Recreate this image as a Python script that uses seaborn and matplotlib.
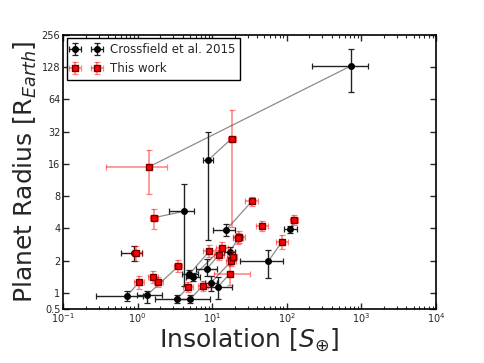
import numpy as np
import pandas as pd
import matplotlib
matplotlib.use("Agg")
import matplotlib.pyplot as plt
import seaborn as sns

# Crossfield et al. 2015 (insolation, radius, lower/upper bounds)
cr_s = [719, 8.87, 4.19, 0.895, 15.3, 111, 56.5, 17.1, 8.44, 4.93, 5.48, 9.55, 11.8, 0.714, 1.32, 3.34, 5.09]
cr_s_lo = [216, 7.6, 2.64, 0.599, 10.2, 91.7, 23.6, 14.2, 6.07, 3.90, 4.45, 7.93, 7.53, 0.277, 0.973, 1.71, 3.27]
cr_s_hi = [1214, 10.3, 5.70, 1.135, 20.2, 137, 89.8, 20.5, 11.5, 6.45, 6.86, 11.5, 18.4, 1.18, 2.10, 5.04, 9.34]
cr_r = [131, 17.4, 5.77, 2.37, 3.86, 3.92, 1.97, 2.39, 1.67, 1.49, 1.41, 1.24, 1.13, 0.932, 0.944, 0.870, 0.879]
cr_r_lo = [75.2, 3.12, 1.16, 1.96, 3.40, 3.62, 1.38, 2.15, 1.44, 1.37, 1.29, 1.04, 0.88, 0.837, 0.807, 0.798, 0.807]
cr_r_hi = [188, 31.7, 10.4, 2.74, 4.40, 4.21, 2.52, 2.67, 2.07, 1.62, 1.54, 1.45, 1.41, 1.04, 1.05, 0.948, 0.958]

# This work (first 17 entries are the same planets as above)
tw_s = [1.42, 18.2, 1.67, 0.952, 33.8, 126, 86.3, 22.9, 12.2, 9.15, 13.4, 17.9, 17.3, 1.05, 3.51, 4.78, 7.41,
        22.0, 18.7, 1.62, 1.89, 46.1]
tw_s_lo = [0.373, 16.1, 1.48, 0.833, 27.5, 111, 71.6, 19.0, 10.5, 7.6, 11.1, 15.3, 10.6, 0.895, 3.10, 4.10, 6.35,
           19.0, 16.0, 1.39, 1.66, 38.3]
tw_s_hi = [2.48, 20.7, 1.89, 1.135, 41.1, 143, 104, 27.5, 14.3, 11.0, 16.1, 20.8, 32.1, 1.22, 3.97, 5.58, 8.65,
           25.5, 21.8, 1.89, 2.21, 55.5]
tw_r = [15.0, 27.5, 5.03, 2.37, 7.12, 4.76, 3.01, 3.33, 2.25, 2.45, 2.60, 1.96, 1.51, 1.26, 1.77, 1.13, 1.15,
        3.22, 2.18, 1.40, 1.26, 4.18]
tw_r_lo = [8.4, 4.1, 3.95, 1.96, 6.47, 4.30, 2.57, 2.92, 2.02, 2.14, 2.26, 1.76, 1.17, 1.09, 1.57, 1.02, 1.04,
           2.85, 1.96, 1.24, 1.13, 3.76]
tw_r_hi = [21.7, 50.8, 6.06, 2.74, 7.85, 5.33, 3.47, 3.78, 2.50, 2.80, 2.99, 2.18, 1.80, 1.45, 2.03, 1.26, 1.29,
           3.65, 2.43, 1.60, 1.40, 4.66]

y_ticks = [2 ** -0.5, 1, 2, 4, 8, 16, 32, 64, 128, 256]
y_labels = ['0.5', '1', '2', '4', '8', '16', '32', '64', '128', '256']

sns.set_style("ticks", {"xtick.direction": "in", "ytick.direction": "in"})
plt.rcParams['font.family'] = ['DejaVu Sans']

fig = plt.figure(figsize=(4.85, 3.63), dpi=100)
ax = fig.add_axes([0.130, 0.149, 0.769, 0.755])

# grey lines joining the two measurements of each planet
n = len(cr_s)
pairs = pd.DataFrame({
    'planet': list(range(n)) * 2,
    'S': cr_s + tw_s[:n],
    'R': cr_r + tw_r[:n],
})
sns.lineplot(data=pairs, x='S', y='R', units='planet', estimator=None, sort=False,
             color='#8c8c8c', lw=0.9, ax=ax, zorder=1)


def asym(v, lo, hi):
    v, lo, hi = np.array(v), np.array(lo), np.array(hi)
    return [v - lo, hi - v]


ax.errorbar(cr_s, cr_r, xerr=asym(cr_s, cr_s_lo, cr_s_hi), yerr=asym(cr_r, cr_r_lo, cr_r_hi),
            fmt='o', color='black', ms=4, mec='black', ecolor='#222222', elinewidth=1.0,
            capsize=2.5, capthick=0.9, zorder=2, label='Crossfield et al. 2015')
ax.errorbar(tw_s, tw_r, xerr=asym(tw_s, tw_s_lo, tw_s_hi), yerr=asym(tw_r, tw_r_lo, tw_r_hi),
            fmt='s', color='red', ms=4.5, mec='#700000', mfc='red', ecolor=(1, 0, 0, 0.5),
            elinewidth=1.1, capsize=2.5, capthick=0.9, zorder=3, label='This work')

ax.set_xscale('log')
ax.set_yscale('log', base=2)
ax.set_xlim(0.1, 1e4)
ax.set_ylim(2 ** -0.5, 256)
ax.set_yticks(y_ticks)
ax.set_yticklabels(y_labels)
ax.yaxis.set_minor_locator(matplotlib.ticker.NullLocator())
ax.tick_params(which='both', direction='in', top=True, right=True, labelsize=7, pad=2)
ax.tick_params(which='major', length=4, width=1)
ax.tick_params(which='minor', length=2, width=0.8)
for sp in ax.spines.values():
    sp.set_linewidth(1.2)
    sp.set_color('black')

ax.set_xlabel(r'Insolation [$S_{\oplus}$]', fontsize=18, labelpad=1)
ax.set_ylabel(r'Planet Radius [R$_{Earth}$]', fontsize=18, labelpad=2)

leg = ax.legend(loc='upper left', numpoints=2, fontsize=8.5, fancybox=False, framealpha=1,
                borderaxespad=0.3, handlelength=2.5)
leg.get_frame().set_edgecolor('black')

fig.savefig('out.png', dpi=100)
